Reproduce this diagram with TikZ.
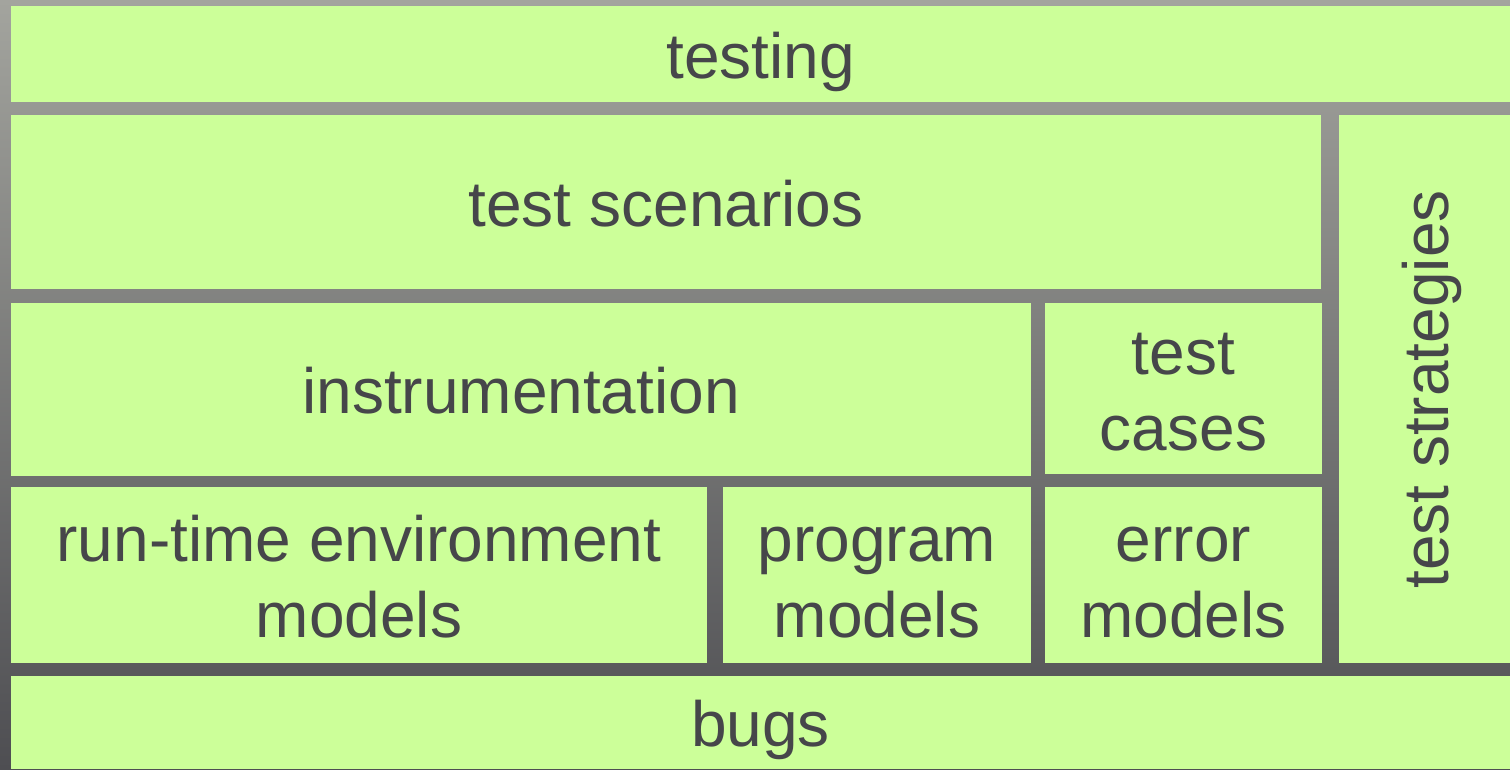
\documentclass[tikz,border=0pt]{standalone}
\usepackage{fontspec}
\setmainfont{Liberation Sans}
\definecolor{boxfill}{HTML}{CCFF99}
\definecolor{labelgray}{HTML}{46464A}
\definecolor{bgtop}{RGB}{163,164,158}
\definecolor{bgbottom}{RGB}{78,78,82}
\begin{document}
\begin{tikzpicture}[x=1pt,y=-1pt,
  block/.style={fill=boxfill},
  label/.style={anchor=base,inner sep=0pt,text=labelgray,
    font=\fontsize{64}{76}\selectfont}]
  % canvas with vertical gray gradient
  \useasboundingbox (0,0) rectangle (1510,769);
  \shade[top color=bgtop,bottom color=bgbottom] (0,0) rectangle (1510,769);

  % layered blocks
  \fill[block] (11,6)    rectangle (1510,102);  % testing
  \fill[block] (11,115)  rectangle (1321,289);  % test scenarios
  \fill[block] (1339,115) rectangle (1510,663); % test strategies
  \fill[block] (11,303)  rectangle (1031,476);  % instrumentation
  \fill[block] (1045,303) rectangle (1322,474); % test cases
  \fill[block] (11,487)  rectangle (707,663);   % run-time environment models
  \fill[block] (723,487) rectangle (1031,663);  % program models
  \fill[block] (1045,487) rectangle (1322,663); % error models
  \fill[block] (11,676)  rectangle (1510,769);  % bugs

  % labels, placed on their baselines
  \node[label] (testing)   at (760.5,78)  {testing};
  \node[label] (scenarios) at (666,226)   {test scenarios};
  \node[label] (instr)     at (521,413.7) {instrumentation};
  \node[label] (cases1)    at (1183.5,374.5) {test};
  \node[label] (cases2)    at (1183.5,450.5) {cases};
  \node[label] (rte1)      at (359,561)   {run-time environment};
  \node[label] (rte2)      at (359,637)   {models};
  \node[label] (prog1)     at (877,561)   {program};
  \node[label] (prog2)     at (877,637)   {models};
  \node[label] (err1)      at (1183.5,561) {error};
  \node[label] (err2)      at (1183.5,637) {models};
  \node[label] (bugs)      at (760.5,746.7) {bugs};
  \node[label,rotate=90] (strategies) at (1448.5,389.5) {test strategies};
\end{tikzpicture}
\end{document}
